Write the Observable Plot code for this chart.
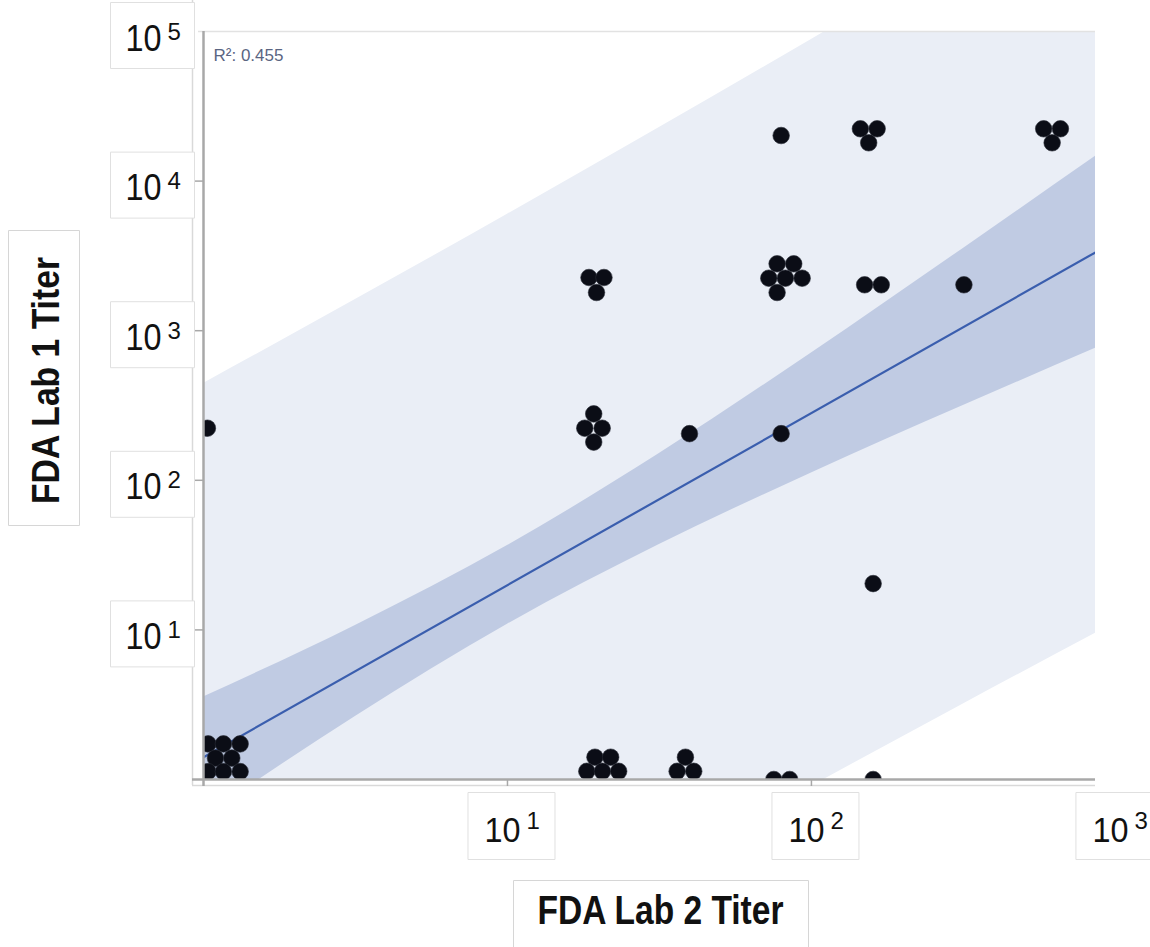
<!DOCTYPE html>
<html>
<head>
<meta charset="utf-8">
<script src="https://cdn.jsdelivr.net/npm/d3@7"></script>
<script src="https://cdn.jsdelivr.net/npm/@observablehq/plot@0.6"></script>
<style>
  html, body { margin: 0; padding: 0; background: #ffffff; }
</style>
</head>
<body>
<div id="chart"></div>
<script>
// ---- data ----
// individual dots (FDA Lab 2 titer on x, FDA Lab 1 titer on y)
const lab2 = [
  1.035, 1.163, 1.32, 1.095, 1.239, 1.035, 1.163, 1.32,
  1.03,
  19.22, 17.96, 20.49, 19.22,
  18.54, 20.77, 19.63,
  19.4, 21.85, 18.24, 20.53, 23.22,
  38.5, 36.15, 41.0,
  39.7,
  75.2, 84.8,
  77.1, 87.45, 72.4, 82.1, 93.2, 77.1,
  79.5,
  79.5,
  144.9, 164.5, 154.3,
  149.6, 169.7,
  159.6,
  159.6,
  317.4,
  580.8, 659.3, 619.3
];
const lab1 = [
  1.73, 1.73, 1.73, 1.39, 1.39, 1.13, 1.13, 1.13,
  223,
  278, 223, 223, 180,
  2268, 2268, 1800,
  1.41, 1.41, 1.135, 1.135, 1.135,
  1.41, 1.135, 1.135,
  205,
  1.0, 1.0,
  2800, 2800, 2244, 2244, 2244, 1800,
  20170,
  205,
  22370, 22370, 18030,
  2027, 2027,
  20.4,
  1.0,
  2027,
  22370, 22370, 18030
];

// fitted line, confidence band and prediction band (read at several x)
const bandX    = [1, 3.16, 10, 31.6, 100, 316, 860];
const predLow  = [0.0045, 0.0175, 0.066, 0.247, 0.90, 3.2, 9.5];
const predHigh = [444, 1614, 6000, 22800, 88500, 351000, 1178000];
const confLow  = [0.56, 2.64, 10.9, 37.2, 112, 316, 762];
const confHigh = [3.56, 10.7, 36.6, 151, 710, 3550, 14660];
const fitX = [1, 860];
const fitY = [1.41, 3340];

const r2 = [0.455];

// axes
const xTicks = [10, 100, 1000];
const xExp = ["1", "2", "3"];
const yTicks = [10, 100, 1000, 10000, 100000];
const yExp = ["1", "2", "3", "4", "5"];
const xTickMarks = [10, 100];
const yTickMarks = [10, 100, 1000, 10000];
const xTitle = "FDA Lab 2 Titer";
const yTitle = "FDA Lab 1 Titer";

// ---- tables ----
const dots = lab2.map((x, i) => ({x, y: lab1[i]}));
const band = bandX.map((x, i) => ({x, pl: predLow[i], ph: predHigh[i], cl: confLow[i], ch: confHigh[i]}));
const fit = fitX.map((x, i) => ({x, y: fitY[i]}));
const xLab = xTicks.map((v, i) => ({v, e: xExp[i]}));
const yLab = yTicks.map((v, i) => ({v, e: yExp[i]}));

const FONT = '"Liberation Sans", Arial, sans-serif';

function rectSymbol(w, h) {
  return { draw(context) { context.rect(-w / 2, -h / 2, w, h); } };
}

const chart = Plot.plot({
  width: 1150,
  height: 947,
  marginTop: 31,
  marginRight: 55,
  marginBottom: 168,
  marginLeft: 203,
  x: {type: "log", domain: [1, 860]},
  y: {type: "log", domain: [1, 100000]},
  style: {fontFamily: FONT, background: "#ffffff", color: "#111"},
  marks: [
    // prediction band
    Plot.areaY(band, {x: "x", y1: "pl", y2: "ph", fill: "#eaeef6", curve: "monotone-x", clip: true}),
    // confidence band
    Plot.areaY(band, {x: "x", y1: "cl", y2: "ch", fill: "#c0cbe3", curve: "monotone-x", clip: true}),
    // fit line
    Plot.line(fit, {x: "x", y: "y", stroke: "#3a5eae", strokeWidth: 2.2, clip: true}),
    // frame lines
    Plot.ruleY([100000], {stroke: "#e2e2e2", strokeWidth: 1.5, insetLeft: -5}),
    Plot.ruleX([1], {dx: -11, stroke: "#d9d9d9", strokeWidth: 1.5, insetTop: -31, insetBottom: -6}),
    Plot.ruleY([1], {dy: 6, stroke: "#d9d9d9", strokeWidth: 1.5, insetLeft: -11}),
    // dots
    Plot.dot(dots, {x: "x", y: "y", r: 8.3, fill: "#0b0d16", stroke: "#2a2d38", strokeWidth: 0.6, clip: true}),
    // axis lines
    Plot.ruleX([1], {stroke: "#a8a8a8", strokeWidth: 2.5, insetBottom: -7}),
    Plot.ruleY([1], {stroke: "#a8a8a8", strokeWidth: 2.5, insetLeft: -11}),
    Plot.axisX(xTickMarks, {tickSize: 7, tickFormat: () => "", stroke: "#a8a8a8", strokeWidth: 1.5, label: null}),
    Plot.axisY(yTickMarks, {tickSize: 11, tickFormat: () => "", stroke: "#a8a8a8", strokeWidth: 1.5, label: null}),
    // y tick label boxes + labels ("10" with exponent)
    Plot.dot(yLab, {y: "v", frameAnchor: "left", dx: -51, dy: 4, r: 10, symbol: rectSymbol(84, 66), fill: "#ffffff", stroke: "#e0e0e0", strokeWidth: 1}),
    Plot.text(yLab, {y: "v", text: d => "10" + d.e, frameAnchor: "left", textAnchor: "start", lineAnchor: "bottom", dx: -78, dy: 19, fontSize: 36, fill: "#111"}),
    // x tick label boxes + labels
    Plot.dot(xLab, {x: "v", frameAnchor: "bottom", dx: 4, dy: 46.5, r: 10, symbol: rectSymbol(87, 67), fill: "#ffffff", stroke: "#e0e0e0", strokeWidth: 1}),
    Plot.text(xLab, {x: "v", text: d => "10" + d.e, frameAnchor: "bottom", textAnchor: "start", lineAnchor: "bottom", dx: -23, dy: 62, fontSize: 35, fill: "#111"}),
    // axis titles in boxes
    Plot.dot([yTitle], {frameAnchor: "left", dx: -159.5, dy: -27.5, r: 10, symbol: rectSymbol(71, 295), fill: "#ffffff", stroke: "#d6d6d6", strokeWidth: 1}),
    Plot.text([yTitle], {text: d => d, frameAnchor: "left", rotate: -90, textAnchor: "middle", lineAnchor: "middle", dx: -157, dy: -25, fontSize: 39, fontWeight: "bold", fill: "#111"}),
    Plot.dot([xTitle], {frameAnchor: "bottom", dx: 11.5, dy: 141, r: 10, symbol: rectSymbol(295, 80), fill: "#ffffff", stroke: "#d6d6d6", strokeWidth: 1}),
    Plot.text([xTitle], {text: d => d, frameAnchor: "bottom", textAnchor: "middle", lineAnchor: "middle", dx: 11, dy: 131, fontSize: 41, fontWeight: "bold", fill: "#111"}),
    // R squared annotation
    Plot.text(r2, {text: d => `R²: ${d}`, frameAnchor: "top-left", textAnchor: "start", lineAnchor: "bottom", dx: 10, dy: 29, fontSize: 17, fill: "#5a6582"})
  ]
});

// condense the glyphs to match the narrow face of the original,
// and typeset the power-of-ten labels with a raised exponent
const svg = d3.select(chart);
function condense(content, len) {
  svg.selectAll("text")
    .filter(function () { return this.textContent === content; })
    .attr("textLength", len)
    .attr("lengthAdjust", "spacingAndGlyphs");
}
condense(xTitle, 246);
condense(yTitle, 247);

svg.selectAll("text")
  .filter(function () { return /^10\d$/.test(this.textContent); })
  .each(function () {
    const fs = +(this.parentNode.getAttribute("font-size") || 36);
    const raise = fs >= 36 ? 11 : 13;
    const exp = this.textContent.slice(2);
    const t = d3.select(this);
    t.text(null);
    t.append("tspan").text("10").attr("textLength", 36).attr("lengthAdjust", "spacingAndGlyphs");
    t.append("tspan").text(exp).attr("font-size", 24).attr("dx", 6).attr("dy", -raise);
  });

document.getElementById("chart").appendChild(chart);
</script>
</body>
</html>
